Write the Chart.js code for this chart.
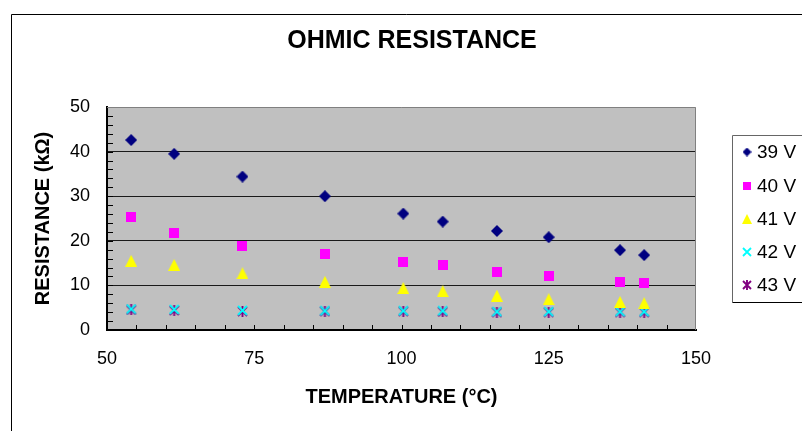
<!DOCTYPE html>
<html><head><meta charset="utf-8">
<script src="https://cdn.jsdelivr.net/npm/chart.js@4/dist/chart.umd.min.js"></script>
<style>html,body{margin:0;padding:0;background:#fff;} #wrap{width:802px;height:431px;position:relative;}</style>
</head><body><div id="wrap"><canvas id="c" width="802" height="431"></canvas></div>
<script>
const chartTitle = 'OHMIC RESISTANCE';
const xTitle = 'TEMPERATURE (°C)';
const yTitle = 'RESISTANCE (kΩ)';
const seriesLabels = ['39 V', '40 V', '41 V', '42 V', '43 V'];
const temperature = [54.1, 61.4, 73.0, 87.0, 100.3, 107.0, 116.2, 125.0, 137.1, 141.2];
const r39 = [42.6, 39.5, 34.4, 30.0, 26.1, 24.3, 22.2, 20.8, 17.9, 16.8];
const r40 = [25.3, 21.7, 18.8, 17.0, 15.2, 14.5, 13.1, 12.0, 10.8, 10.5];
const r41 = [15.5, 14.6, 12.7, 10.8, 9.4, 8.7, 7.7, 6.9, 6.3, 6.0];
const r42 = [4.7, 4.6, 4.4, 4.3, 4.3, 4.3, 4.1, 4.1, 4.1, 4.1];
const r43 = [4.5, 4.4, 4.2, 4.2, 4.2, 4.1, 4.0, 4.0, 4.0, 4.0];
const xTickValues = [50, 75, 100, 125, 150];
const yTickValues = [0, 10, 20, 30, 40, 50];

const FONT = "'Liberation Sans', Arial, sans-serif";
const colors = ['#000080', '#FF00FF', '#FFFF00', '#00FFFF', '#800080'];
const shapes = ['diamond', 'square', 'triangle', 'x', 'asterisk'];

function makeMarker(shape, color, s) {
  const c = document.createElement('canvas');
  c.width = s; c.height = s;
  const g = c.getContext('2d');
  const m = s / 2;
  g.fillStyle = color; g.strokeStyle = color;
  if (shape === 'diamond') {
    g.beginPath(); g.moveTo(m, 0); g.lineTo(s, m); g.lineTo(m, s); g.lineTo(0, m); g.closePath(); g.fill();
  } else if (shape === 'square') {
    g.fillRect(0, 0, s, s);
  } else if (shape === 'triangle') {
    g.beginPath(); g.moveTo(m, 0); g.lineTo(s, s); g.lineTo(0, s); g.closePath(); g.fill();
  } else if (shape === 'x') {
    g.lineWidth = 1.8;
    g.beginPath(); g.moveTo(1, 1); g.lineTo(s - 1, s - 1); g.moveTo(s - 1, 1); g.lineTo(1, s - 1); g.stroke();
  } else if (shape === 'asterisk') {
    g.lineWidth = 1.9;
    g.beginPath(); g.moveTo(1, 1); g.lineTo(s - 1, s - 1); g.moveTo(s - 1, 1); g.lineTo(1, s - 1);
    g.moveTo(m, 0); g.lineTo(m, s); g.stroke();
  }
  return c;
}
const plotSizes = [12, 10, 12, 11, 11];
const legendSizes = [9, 8, 10, 10, 10];
const plotMarkers = shapes.map((sh, i) => makeMarker(sh, colors[i], plotSizes[i]));
const legendMarkers = shapes.map((sh, i) => makeMarker(sh, colors[i], legendSizes[i]));

const seriesValues = [r39, r40, r41, r42, r43];
const datasets = seriesValues.map((vals, i) => ({
  label: seriesLabels[i],
  data: temperature.map((t, j) => ({x: t, y: vals[j]})),
  pointStyle: plotMarkers[i],
  pointRadius: 6,
  backgroundColor: colors[i],
  borderColor: colors[i],
  showLine: false
}));

const decor = {
  id: 'decor',
  beforeDraw(chart) {
    const {ctx, chartArea: a} = chart;
    ctx.save();
    ctx.fillStyle = '#C0C0C0';
    ctx.fillRect(a.left, a.top, a.right - a.left, a.bottom - a.top);
    ctx.restore();
  },
  beforeDatasetsDraw(chart) {
    const {ctx, chartArea: a, scales} = chart;
    ctx.save();
    ctx.strokeStyle = '#808080'; ctx.lineWidth = 1;
    ctx.beginPath();
    ctx.moveTo(a.left, a.top + 0.5); ctx.lineTo(a.right - 0.5, a.top + 0.5); ctx.lineTo(a.right - 0.5, a.bottom);
    ctx.stroke();
    ctx.strokeStyle = '#000';
    ctx.beginPath();
    for (let v = 2; v < 50; v += 2) {
      const y = Math.round(scales.y.getPixelForValue(v)) + 0.5;
      ctx.moveTo(a.left, y); ctx.lineTo(a.left + 6, y);
    }
    for (let v = 55; v < 150; v += 5) {
      const x = Math.round(scales.x.getPixelForValue(v)) + 0.5;
      ctx.moveTo(x, a.bottom); ctx.lineTo(x, a.bottom - 5);
    }
    ctx.stroke();
    ctx.restore();
  },
  afterDraw(chart) {
    const {ctx} = chart;
    ctx.save();
    ctx.strokeStyle = '#000'; ctx.lineWidth = 1;
    ctx.beginPath(); ctx.moveTo(11.5, 431); ctx.lineTo(11.5, 14.5); ctx.lineTo(802, 14.5); ctx.stroke();
    ctx.fillStyle = '#000';
    ctx.font = 'bold 25px ' + FONT;
    ctx.textAlign = 'center'; ctx.textBaseline = 'middle';
    ctx.fillText(chartTitle, 412, 41);
    ctx.strokeStyle = '#666';
    ctx.beginPath(); ctx.moveTo(810, 135.5); ctx.lineTo(732.5, 135.5); ctx.lineTo(732.5, 302.5); ctx.stroke();
    ctx.strokeStyle = '#000';
    ctx.beginPath(); ctx.moveTo(732.5, 302.5); ctx.lineTo(810, 302.5); ctx.stroke();
    const ys = [152, 186, 219, 252, 285];
    ctx.font = '19px ' + FONT;
    ctx.textAlign = 'left';
    chart.data.datasets.forEach((ds, i) => {
      const m = legendMarkers[i];
      ctx.drawImage(m, 747 - m.width / 2, ys[i] - m.height / 2);
      ctx.fillStyle = '#000';
      ctx.fillText(ds.label, 757, ys[i] + 1);
    });
    ctx.restore();
  }
};

new Chart(document.getElementById('c'), {
  type: 'scatter',
  data: {datasets},
  options: {
    responsive: false,
    animation: false,
    devicePixelRatio: 1,
    layout: {padding: {left: 0, right: 106, top: 107, bottom: 0}},
    plugins: {legend: {display: false}, title: {display: false}, tooltip: {enabled: false}},
    scales: {
      x: {
        type: 'linear', min: 50, max: 150,
        afterFit(s) { s.height = 101; },
        afterBuildTicks(s) { s.ticks = xTickValues.map(v => ({value: v})); },
        ticks: {padding: 18, color: '#000', font: {family: FONT, size: 18}},
        grid: {display: true, color: 'rgba(0,0,0,0)', drawTicks: false},
        border: {display: true, color: '#000', width: 2},
        title: {display: true, text: xTitle, color: '#000', font: {family: FONT, size: 20, weight: 'bold'}, padding: {top: 0, bottom: 22}}
      },
      y: {
        type: 'linear', min: 0, max: 50,
        afterFit(s) { s.width = 107; },
        afterBuildTicks(s) { s.ticks = yTickValues.map(v => ({value: v})); },
        ticks: {padding: 17, color: '#000', font: {family: FONT, size: 18}},
        grid: {display: true, drawTicks: false, lineWidth: 1,
          color: (ctx) => (ctx.tick && (ctx.tick.value === 0 || ctx.tick.value === 50)) ? 'rgba(0,0,0,0)' : '#1a1a1a'},
        border: {display: true, color: '#000', width: 2},
        title: {display: true, text: yTitle, color: '#000', font: {family: FONT, size: 20, weight: 'bold'}, padding: {top: 31, bottom: 0}}
      }
    }
  },
  plugins: [decor]
});
</script></body></html>
